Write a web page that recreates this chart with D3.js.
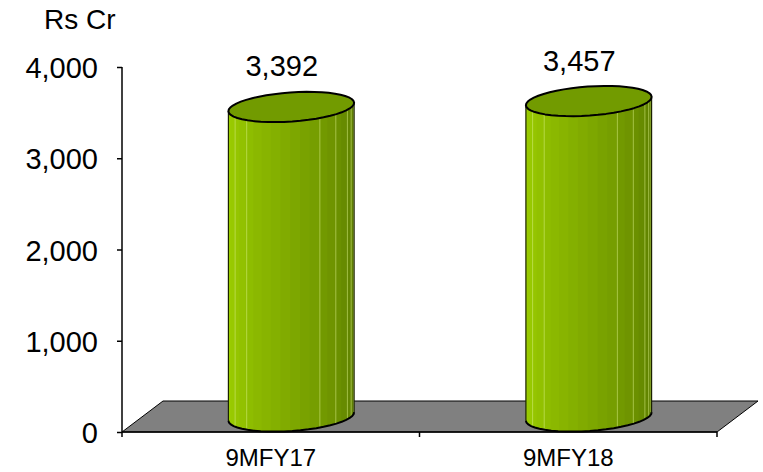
<!DOCTYPE html>
<html>
<head>
<meta charset="utf-8">
<script src="https://cdn.jsdelivr.net/npm/d3@7"></script>
<style>
html,body{margin:0;padding:0;background:#fff;}
svg{display:block;font-family:Arial,"Liberation Sans",sans-serif;}
</style>
</head>
<body>
<svg id="chart" width="763" height="472"></svg>
<script>
// ---- data ----
const categories = ["9MFY17", "9MFY18"];
const values = [3392, 3457];
const valueLabels = ["3,392", "3,457"];
const yTicks = [0, 1000, 2000, 3000, 4000];
const yTickLabels = ["0", "1,000", "2,000", "3,000", "4,000"];
const unitLabel = "Rs Cr";

// ---- layout ----
const svg = d3.select("#chart");
const x0 = 122, x1 = 717, yBase = 432, yTop = 67;
const depthX = 41, depthY = -31;
const y = d3.scaleLinear().domain([0, 4000]).range([yBase, yTop]);
const x = d3.scaleBand().domain(categories).range([x0, x1]).padding(0);
const bw = x.bandwidth();

const defs = svg.append("defs");

// floor
svg.append("polygon")
  .attr("points", [[x0, yBase], [x0 + depthX, yBase + depthY], [x1 + depthX, yBase + depthY], [x1, yBase]].map(p => p.join(",")).join(" "))
  .attr("fill", "#808080").attr("stroke", "#000").attr("stroke-width", 1);

// y axis
const yAxis = svg.append("g").attr("transform", `translate(${x0},0)`)
  .call(d3.axisLeft(y).tickValues(yTicks).tickSize(5).tickFormat(""));
yAxis.select(".domain").attr("stroke", "#000").attr("stroke-width", 1.5).attr("d", `M0,${yTop}V${yBase}`);
yAxis.selectAll(".tick line").attr("stroke", "#000").attr("stroke-width", 1.5);
svg.append("g").selectAll("text").data(yTicks).join("text")
  .attr("x", 98).attr("y", d => y(d) + 11)
  .attr("text-anchor", "end").attr("font-size", 29).attr("fill", "#000")
  .text((d, i) => yTickLabels[i]);

// x axis
const xAxis = svg.append("g").attr("transform", `translate(0,${yBase})`)
  .call(d3.axisBottom(x).tickSize(0).tickFormat(""));
xAxis.select(".domain").attr("stroke", "#000").attr("stroke-width", 1.5).attr("d", `M${x0},0H${x1}`);
const xTickPos = [x0].concat(categories.map(c => x(c) + bw));
svg.append("g").selectAll("line").data(xTickPos).join("line")
  .attr("x1", d => d).attr("x2", d => d).attr("y1", yBase).attr("y2", yBase + 5)
  .attr("stroke", "#000").attr("stroke-width", 1.5);
svg.append("g").selectAll("text").data(categories).join("text")
  .attr("x", d => x(d) + bw / 2).attr("y", 466)
  .attr("text-anchor", "middle").attr("font-size", 24).attr("fill", "#000")
  .text(d => d);

// unit label
svg.append("text").attr("x", 44).attr("y", 29).attr("font-size", 28).attr("fill", "#000").text(unitLabel);

// cylinders
const rx = 63, ry = 14.5, theta = -4 * Math.PI / 180;
function ept(cx, cy, t) {
  return [cx + rx * Math.cos(t) * Math.cos(theta) - ry * Math.sin(t) * Math.sin(theta),
          cy + rx * Math.cos(t) * Math.sin(theta) + ry * Math.sin(t) * Math.cos(theta)];
}
const NSEG = 24;
const light = d3.interpolateRgb("#9fd200", "#5a7a00");

categories.forEach((c, i) => {
  const cx = x(c) + bw / 2 + depthX / 2;
  const cb = y(0) + depthY / 2;
  const ct = y(values[i]) + depthY / 2;
  const pts = [];
  for (let k = 0; k <= NSEG; k++) pts.push(ept(cx, ct, Math.PI + Math.PI * k / NSEG));
  for (let k = 0; k <= NSEG; k++) pts.push(ept(cx, cb, Math.PI * k / NSEG));
  const bodyD = "M" + pts.map(p => p.join(",")).join("L") + "Z";
  const clipId = "clip" + i;
  defs.append("clipPath").attr("id", clipId).append("path").attr("d", bodyD);
  const g = svg.append("g");
  const fg = g.append("g").attr("clip-path", `url(#${clipId})`);
  const NF = 20;
  for (let k = 0; k < NF; k++) {
    const xa = cx - rx * Math.cos(Math.PI * k / NF) - 1;
    const xb = cx - rx * Math.cos(Math.PI * (k + 1) / NF) + 1;
    const f = (k + 0.5) / NF;
    fg.append("rect").attr("x", xa).attr("y", ct - 30).attr("width", xb - xa).attr("height", cb - ct + 60)
      .attr("fill", light(Math.pow(f, 1.1)));
  }
  const stripeK = [3, 5, 13, 15, 17, 18, 19];
  stripeK.forEach(k => {
    const xs = cx - rx * Math.cos(Math.PI * k / NF);
    fg.append("line").attr("x1", xs).attr("x2", xs).attr("y1", ct - 30).attr("y2", cb + 30)
      .attr("stroke", "#d8f080").attr("stroke-opacity", 0.55).attr("stroke-width", 1);
  });
  const l0 = ept(cx, ct, Math.PI), l1 = ept(cx, cb, Math.PI);
  const r0 = ept(cx, ct, 0), r1 = ept(cx, cb, 0);
  g.append("line").attr("x1", l0[0]).attr("y1", l0[1]).attr("x2", l1[0]).attr("y2", l1[1]).attr("stroke", "#1a2200").attr("stroke-width", 1.2);
  g.append("line").attr("x1", r0[0]).attr("y1", r0[1]).attr("x2", r1[0]).attr("y2", r1[1]).attr("stroke", "#1a2200").attr("stroke-width", 1.2);
  const bpts = [];
  for (let k = 0; k <= NSEG; k++) bpts.push(ept(cx, cb, Math.PI * k / NSEG));
  g.append("path").attr("d", "M" + bpts.map(p => p.join(",")).join("L"))
    .attr("fill", "none").attr("stroke", "#000").attr("stroke-width", 2);
  const tpts = [];
  for (let k = 0; k < NSEG * 2; k++) tpts.push(ept(cx, ct, Math.PI * k / NSEG));
  g.append("path").attr("d", "M" + tpts.map(p => p.join(",")).join("L") + "Z")
    .attr("fill", "#729b00").attr("stroke", "#000").attr("stroke-width", 2).attr("stroke-linejoin", "round");
  svg.append("text").attr("x", x(c) + bw / 2 + 11).attr("y", y(values[i]) - 46)
    .attr("text-anchor", "middle").attr("font-size", 29).attr("fill", "#000")
    .text(valueLabels[i]);
});
</script>
</body>
</html>
